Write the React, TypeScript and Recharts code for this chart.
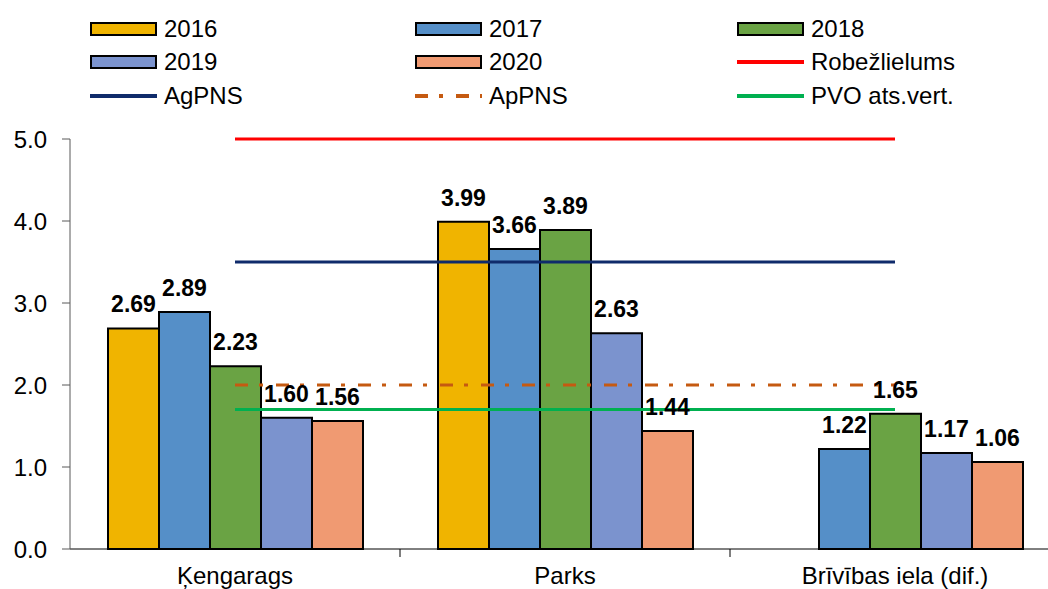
import React from 'react';
import { ComposedChart, Bar, Line, XAxis, YAxis, LabelList } from 'recharts';

const categories = ['Ķengarags', 'Parks', 'Brīvības iela (dif.)'];

const y2016 = [2.69, 3.99, null];
const y2017 = [2.89, 3.66, 1.22];
const y2018 = [2.23, 3.89, 1.65];
const y2019 = [1.6, 2.63, 1.17];
const y2020 = [1.56, 1.44, 1.06];

const robezlielums = [5.0, 5.0, 5.0];
const agpns = [3.5, 3.5, 3.5];
const appns = [2.0, 2.0, 2.0];
const pvo = [1.7, 1.7, 1.7];

const yTicks = [0, 1, 2, 3, 4, 5];

const font = '"Liberation Sans", Arial, sans-serif';

const bars = [
    { key: '2016', values: y2016, color: '#F0B400' },
    { key: '2017', values: y2017, color: '#558FC8' },
    { key: '2018', values: y2018, color: '#6AA344' },
    { key: '2019', values: y2019, color: '#7B93CE' },
    { key: '2020', values: y2020, color: '#F09A72' },
];

const lines = [
    { key: 'Robežlielums', values: robezlielums, color: '#FF0000', dash: undefined },
    { key: 'AgPNS', values: agpns, color: '#0F2B6B', dash: undefined },
    { key: 'ApPNS', values: appns, color: '#C55A11', dash: '13 11 4 13' },
    { key: 'PVO ats.vert.', values: pvo, color: '#00B050', dash: undefined },
];

const data = categories.map((name, i) => {
    const row: any = { name };
    bars.forEach(b => { row[b.key] = b.values[i]; });
    lines.forEach(l => { row[l.key] = l.values[i]; });
    return row;
});

// legend order as in the picture, 3 columns x 3 rows
const legendItems = [
    { label: '2016', color: '#F0B400', kind: 'bar' },
    { label: '2017', color: '#558FC8', kind: 'bar' },
    { label: '2018', color: '#6AA344', kind: 'bar' },
    { label: '2019', color: '#7B93CE', kind: 'bar' },
    { label: '2020', color: '#F09A72', kind: 'bar' },
    { label: 'Robežlielums', color: '#FF0000', kind: 'line' },
    { label: 'AgPNS', color: '#0F2B6B', kind: 'line' },
    { label: 'ApPNS', color: '#C55A11', kind: 'dash' },
    { label: 'PVO ats.vert.', color: '#00B050', kind: 'line' },
];
const legendCols = [90, 415, 737];
const legendRows = [29, 62, 96];

function Legend3x3() {
    return (
        <>
            {legendItems.map((it, i) => {
                const left = legendCols[i % 3];
                const top = legendRows[Math.floor(i / 3)] - 14;
                let swatch;
                if (it.kind === 'bar') {
                    swatch = <div style={{ width: 63, height: 10, background: it.color, border: '2px solid #000' }} />;
                } else if (it.kind === 'dash') {
                    swatch = (
                        <svg width={67} height={6}>
                            <line x1={0} x2={67} y1={3} y2={3} stroke={it.color} strokeWidth={4} strokeDasharray="13 11 4 13" />
                        </svg>
                    );
                } else {
                    swatch = <div style={{ width: 67, height: 4, background: it.color }} />;
                }
                return (
                    <div key={it.label} style={{ position: 'absolute', left, top, height: 28, display: 'flex', alignItems: 'center' }}>
                        {swatch}
                        <span style={{ marginLeft: 7, fontFamily: font, fontSize: 24, color: '#000', lineHeight: '28px' }}>{it.label}</span>
                    </div>
                );
            })}
        </>
    );
}

function CategoryTick(props: any) {
    const { x, y, payload } = props;
    const half = payload && payload.offset ? payload.offset : 165;
    const axisY = y - 18;
    return (
        <g>
            <line x1={x + half} x2={x + half} y1={axisY} y2={axisY + 8} stroke="#000" />
            <text x={x} y={y} dy="0.71em" textAnchor="middle" fontSize={24} fill="#000" fontFamily={font}>{payload.value}</text>
        </g>
    );
}

export default function App() {
    return (
        <div style={{ position: 'fixed', left: 0, top: 0, width: 1048, height: 589, overflow: 'hidden', background: '#fff' }}>
            <Legend3x3 />
            <ComposedChart
                width={1060}
                height={600}
                data={data}
                barCategoryGap={38}
                barGap={0}
                margin={{ top: 139, right: 0, left: 0, bottom: 11 }}
                style={{ fontFamily: font }}
            >
                <XAxis
                    dataKey="name"
                    height={40}
                    axisLine={{ stroke: '#000' }}
                    tickLine={false}
                    tickSize={8}
                    tickMargin={10}
                    tick={<CategoryTick />}
                    interval={0}
                />
                <YAxis
                    width={70}
                    domain={[0, 5]}
                    ticks={yTicks}
                    tickFormatter={(v: number) => v.toFixed(1)}
                    axisLine={{ stroke: '#595959' }}
                    tickLine={{ stroke: '#595959' }}
                    tickSize={8}
                    tickMargin={15}
                    tick={{ fill: '#000', fontSize: 24, fontFamily: font }}
                />
                {bars.map(b => (
                    <Bar key={b.key} dataKey={b.key} fill={b.color} stroke="#000" strokeWidth={2} isAnimationActive={false}>
                        <LabelList
                            dataKey={b.key}
                            position="top"
                            offset={16}
                            formatter={(v: any) => (v == null ? '' : Number(v).toFixed(2))}
                            style={{ fill: '#000', fontSize: 23, fontWeight: 'bold', fontFamily: font }}
                        />
                    </Bar>
                ))}
                {lines.map(l => (
                    <Line
                        key={l.key}
                        dataKey={l.key}
                        stroke={l.color}
                        strokeWidth={3}
                        strokeDasharray={l.dash}
                        dot={false}
                        activeDot={false}
                        isAnimationActive={false}
                    />
                ))}
            </ComposedChart>
        </div>
    );
}
